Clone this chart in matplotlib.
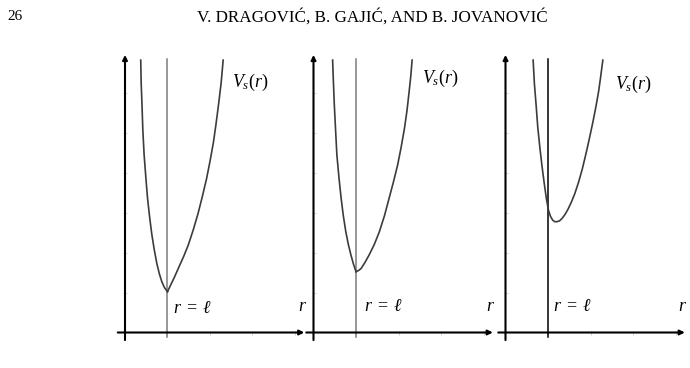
import numpy as np
import matplotlib
matplotlib.use('Agg')
import matplotlib.pyplot as plt

plt.rcParams['mathtext.fontset'] = 'custom'
plt.rcParams['mathtext.rm'] = 'Liberation Serif'
plt.rcParams['mathtext.it'] = 'Liberation Serif:italic'
plt.rcParams['font.family'] = 'Liberation Serif'

# curve samples, r in units of the tick spacing, r = l at 1
left_r_1 = [0.37, 0.38, 0.40, 0.42, 0.45, 0.49, 0.53, 0.58, 0.63, 0.69, 0.75, 0.81, 0.87, 0.93, 1.0]
left_v_1 = [6.81, 6.25, 5.69, 5.05, 4.44, 3.88, 3.36, 2.88, 2.46, 2.06, 1.72, 1.46, 1.26, 1.12, 1.02]
right_r_1 = [1.0, 1.08, 1.17, 1.27, 1.38, 1.49, 1.61, 1.72, 1.82, 1.92, 2.00, 2.08, 2.14, 2.20, 2.26, 2.31]
right_v_1 = [1.02, 1.20, 1.40, 1.64, 1.90, 2.19, 2.58, 2.98, 3.40, 3.85, 4.28, 4.75, 5.20, 5.69, 6.22, 6.81]

left_r_2 = [0.45, 0.47, 0.49, 0.52, 0.55, 0.60, 0.65, 0.70, 0.76, 0.82, 0.88, 0.94, 1.0]
left_v_2 = [6.81, 6.22, 5.69, 5.05, 4.44, 3.86, 3.36, 2.93, 2.52, 2.20, 1.94, 1.71, 1.52]
right_r_2 = [1.0, 1.06, 1.12, 1.21, 1.31, 1.43, 1.55, 1.67, 1.78, 1.88, 1.98, 2.06, 2.14, 2.20, 2.25, 2.29, 2.32]
right_v_2 = [1.52, 1.55, 1.60, 1.75, 1.94, 2.20, 2.52, 2.92, 3.36, 3.76, 4.19, 4.62, 5.10, 5.55, 6.02, 6.42, 6.81]

r_3 = [0.65, 0.68, 0.72, 0.76, 0.81, 0.86, 0.91, 0.96, 1.01, 1.06, 1.11, 1.16, 1.21, 1.27,
       1.33, 1.40, 1.47, 1.55, 1.63, 1.72, 1.81, 1.90, 1.98, 2.06, 2.13, 2.19, 2.24, 2.29]
v_3 = [6.81, 6.22, 5.69, 5.12, 4.61, 4.15, 3.74, 3.36, 3.06, 2.90, 2.81, 2.77, 2.77, 2.79,
       2.85, 2.95, 3.08, 3.26, 3.47, 3.76, 4.10, 4.50, 4.88, 5.28, 5.66, 6.02, 6.40, 6.81]

panels = [
    ([left_r_1, right_r_1], [left_v_1, right_v_1], '#7a7a7a', (2.52, 6.24), (1.13, 0.61)),
    ([left_r_2, right_r_2], [left_v_2, right_v_2], '#7a7a7a', (2.55, 6.36), (1.19, 0.65)),
    ([r_3], [v_3], 'black', (2.58, 6.19), (1.12, 0.65)),
]
origins_px = [125, 313.5, 505.5]

W, H = 690, 368
ux, uy = 42.5, 40.0
fig = plt.figure(figsize=(W / 100, H / 100), dpi=100)

fig.text(7 / W, 1 - 17 / H, '26', fontsize=11, va='center', ha='left')
fig.text(372 / W, 1 - 17 / H, 'V. DRAGOVIĆ, B. GAJIĆ, AND B. JOVANOVIĆ',
         fontsize=12.3, va='center', ha='center')

for (rs, vs, vcol, vs_pos, rl_pos), ox in zip(panels, origins_px):
    x0, x1, y0, y1 = -0.25, 4.35, -0.3, 7.1
    left = (ox + x0 * ux) / W
    bottom = (H - (332.5 - y0 * uy)) / H
    ax = fig.add_axes([left, bottom, (x1 - x0) * ux / W, (y1 - y0) * uy / H])
    ax.set_xlim(x0, x1)
    ax.set_ylim(y0, y1)
    ax.patch.set_visible(False)

    # faint ticks on the axes
    for s in ['top', 'right']:
        ax.spines[s].set_visible(False)
    ax.spines['left'].set_position(('data', 0))
    ax.spines['bottom'].set_position(('data', 0))
    ax.spines['left'].set_color('none')
    ax.spines['bottom'].set_color('none')
    ax.set_xticks([1, 2, 3, 4])
    ax.set_yticks([1, 2, 3, 4, 5, 6])
    ax.set_xticklabels([])
    ax.set_yticklabels([])
    ax.tick_params(direction='inout', length=3, width=0.6, colors='#c8c8c8')

    # axes with arrows
    ax.annotate('', xy=(4.22, 0), xytext=(-0.17, 0),
                arrowprops=dict(arrowstyle='-|>', lw=1.5, color='black',
                                mutation_scale=7, shrinkA=0, shrinkB=0))
    ax.annotate('', xy=(0, 6.94), xytext=(0, -0.19),
                arrowprops=dict(arrowstyle='-|>', lw=1.5, color='black',
                                mutation_scale=7, shrinkA=0, shrinkB=0))

    ax.plot([1, 1], [-0.1, 6.83], color=vcol, lw=1.1)
    for r, v in zip(rs, vs):
        ax.plot(r, v, color='#3c3c3c', lw=1.2, solid_joinstyle='round')

    ax.text(vs_pos[0], vs_pos[1], r'$V_s(r)$', fontsize=13, va='center', ha='left')
    ax.text(rl_pos[0], rl_pos[1], r'$r\;=\;\ell$', fontsize=13, va='center', ha='left')
    ax.text(4.06, 0.64, r'$r$', fontsize=13, va='center', ha='left')

fig.savefig('out.png', dpi=100)
